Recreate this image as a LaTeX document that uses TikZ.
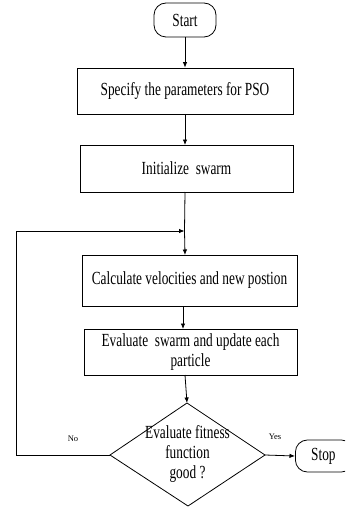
\documentclass[tikz,border=0pt]{standalone}
\usepackage{fontspec}
\setmainfont{Liberation Serif}[FakeStretch=0.72]
\newfontfamily\labelfont{Liberation Serif}
\usetikzlibrary{arrows.meta,shapes.geometric}
\begin{document}
\begin{tikzpicture}[x=1pt,y=-1pt,
  every node/.style={font=\fontsize{18.5}{20}\selectfont, inner sep=0pt},
  flowline/.style={line width=0.8pt, draw=black},
  arr/.style={flowline, -{Latex[length=5.5pt,width=4.5pt]}},
  term/.style={draw, line width=0.8pt, rounded corners=12pt, minimum width=62pt, minimum height=34pt},
  procbox/.style={draw, line width=0.8pt, align=center},
  decision/.style={draw, line width=0.8pt, diamond, aspect=1.5, align=center},
  lbl/.style={font=\labelfont\fontsize{8.5}{10}\selectfont}
]
\useasboundingbox (0,0) rectangle (345,508);
\node[term] (start) at (185,20) {Start};
\node[procbox, minimum width=216pt, minimum height=46pt] (box1) at (185,91) {Specify the parameters for PSO};
\node[procbox, minimum width=213pt, minimum height=47pt] (box2) at (186.5,168.5) {Initialize~~swarm};
\node[procbox, minimum width=215pt, minimum height=51pt] (box3) at (189.5,280.5) {Calculate velocities and new postion};
\node[procbox, minimum width=213pt, minimum height=46pt] (box4) at (190.5,352) {Evaluate~~swarm and update each\\particle};
\path[draw, line width=0.8pt] (187,403) coordinate (dtop) -- (265,455) coordinate (dright) -- (188,506) coordinate (dbot) -- (110,455) coordinate (dleft) -- cycle;
\node[align=center] (dtext) at (187.5,454) {Evaluate fitness\\function\\good ?};
\begin{scope}
\clip (0,0) rectangle (345,508);
\node[term, minimum width=58pt, minimum height=32pt, anchor=west] (stop) at (295,456) {\hspace*{-2pt}Stop};
\end{scope}
\coordinate (join) at (184.5,231);
\coordinate (corner) at (16,455);
\draw[arr] (start.south) -- (start.south |- box1.north);
\draw[arr] (185,114) -- (185,145);
\draw[flowline] (185,192) -- (join);
\draw[arr] (join) -- (185,255);
\draw[arr] (183,306) -- (183,329);
\draw[arr] (185,375) -- (dtop);
\draw[arr] (dright) -- (stop.west);
\draw[flowline] (dleft) -- (corner);
\draw[arr] (corner) |- (join);
\node[lbl] (no) at (73,439) {No};
\node[lbl] (yes) at (275,437) {Yes};
\end{tikzpicture}
\end{document}
